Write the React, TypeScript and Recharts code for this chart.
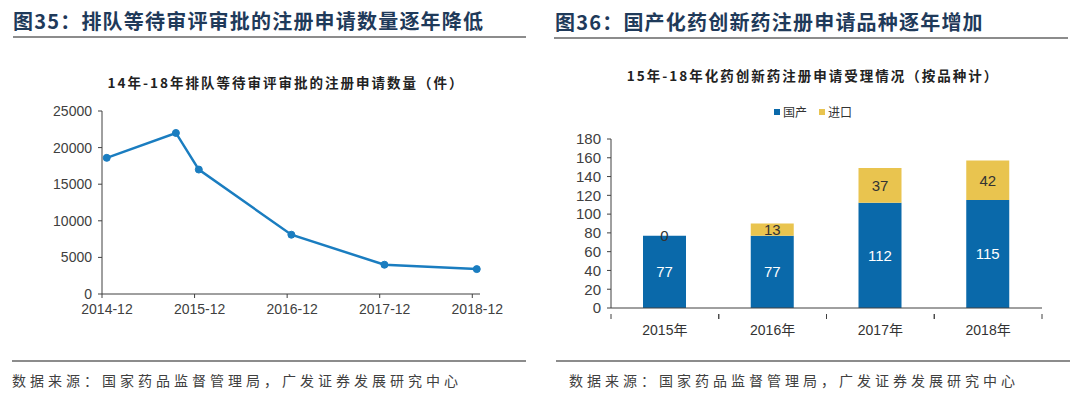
import React from "react"
import {
  Bar,
  BarChart,
  LabelList,
  Legend,
  Line,
  LineChart,
  XAxis,
  YAxis,
} from "recharts"

// left panel: queue of pending applications
const queueDates = ["2014-12-20", "2015-09-19", "2015-12-18", "2016-12-18", "2017-12-20", "2018-12-19"]
const queueValues = [18600, 22000, 17000, 8100, 4000, 3400]
const queueTickLabels = ["2014-12", "2015-12", "2016-12", "2017-12", "2018-12"]
const queueYTicks = [0, 5000, 10000, 15000, 20000, 25000]

// right panel: innovative drug applications
const years = ["2015年", "2016年", "2017年", "2018年"]
const domestic = [77, 77, 112, 115]
const imported = [0, 13, 37, 42]
const barYTicks = [0, 20, 40, 60, 80, 100, 120, 140, 160, 180]

const C = {
  line: "#1A7DC0",
  blue: "#0A69AA",
  gold: "#E9C44F",
  axis: "#404040",
  text: "#333333",
  title: "#1F3A5A",
  rule: "#8C8C8C",
}

const CJK = '"Noto Sans CJK SC", sans-serif'
const NUM = '"Liberation Sans", "Noto Sans CJK SC", sans-serif'

if (typeof document !== "undefined") document.body.style.margin = "0"

// months since 2014-12-01
function monthIndex(d: string) {
  const [y, m, day] = d.split("-").map(Number)
  return (y - 2014) * 12 + (m - 12) + (day - 1) / 31
}

const queueData = queueDates.map((d, i) => ({ x: monthIndex(d), v: queueValues[i] }))
const barData = years.map((y, i) => ({ year: y, domestic: domestic[i], imported: imported[i] }))

function Title({ left, top, children }: { left: number; top: number; children: React.ReactNode }) {
  return (
    <div
      style={{
        position: "absolute",
        left,
        top,
        fontFamily: CJK,
        fontSize: 20,
        fontWeight: 700,
        letterSpacing: 1.2,
        lineHeight: "24px",
        color: C.title,
        whiteSpace: "nowrap",
      }}
    >
      {children}
    </div>
  )
}

function Rule({ left, top, width }: { left: number; top: number; width: number }) {
  return <div style={{ position: "absolute", left, top, width, height: 2, background: C.rule }} />
}

function SubTitle({ center, top, children }: { center: number; top: number; children: React.ReactNode }) {
  return (
    <div
      style={{
        position: "absolute",
        left: center - 250,
        width: 500,
        top,
        textAlign: "center",
        fontFamily: CJK,
        fontSize: 13.5,
        fontWeight: 700,
        letterSpacing: 2,
        lineHeight: "18px",
        color: "#222",
        whiteSpace: "nowrap",
      }}
    >
      {children}
    </div>
  )
}

function Source({ left, top }: { left: number; top: number }) {
  return (
    <div
      style={{
        position: "absolute",
        left,
        top,
        fontFamily: CJK,
        fontSize: 14,
        letterSpacing: 4,
        lineHeight: "18px",
        color: "#404040",
        whiteSpace: "nowrap",
      }}
    >
      数据来源：国家药品监督管理局，广发证券发展研究中心
    </div>
  )
}

function QueueChart() {
  return (
    <div style={{ position: "absolute", left: 0, top: 0 }}>
      <LineChart width={540} height={330} data={queueData} margin={{ top: 111, right: 60, left: 42, bottom: 6 }}>
        <XAxis
          dataKey="x"
          type="number"
          domain={[0, 49]}
          ticks={[0, 12, 24, 36, 48]}
          interval={0}
          tickFormatter={(v: number) => queueTickLabels[v / 12]}
          height={30}
          stroke={C.axis}
          tickSize={4}
          tickMargin={6}
          tick={{ fill: C.axis, fontSize: 14, fontFamily: NUM, dx: 5 }}
        />
        <YAxis
          type="number"
          domain={[0, 25000]}
          ticks={queueYTicks}
          interval={0}
          width={60}
          stroke={C.axis}
          tickSize={4}
          tickMargin={6}
          tick={{ fill: C.axis, fontSize: 14, fontFamily: NUM }}
        />
        <Line
          dataKey="v"
          type="linear"
          stroke={C.line}
          strokeWidth={2.5}
          dot={{ r: 3.5, fill: C.line, stroke: C.line, strokeWidth: 1 }}
          isAnimationActive={false}
        />
      </LineChart>
    </div>
  )
}

function LegendContent() {
  const items = [
    { name: "国产", color: C.blue },
    { name: "进口", color: C.gold },
  ]
  return (
    <div style={{ display: "flex", gap: 12, fontFamily: CJK, fontSize: 12, color: C.text, lineHeight: "16px" }}>
      {items.map((it) => (
        <span key={it.name} style={{ display: "flex", alignItems: "center" }}>
          <span style={{ width: 6, height: 6, background: it.color, marginRight: 3, display: "inline-block" }} />
          {it.name}
        </span>
      ))}
    </div>
  )
}

// category label plus Excel-style tick marks on the band edges
function YearTick(props: any) {
  const { x, y, payload } = props
  const half = payload?.offset ?? 0
  return (
    <g>
      <line x1={x - half} x2={x - half} y1={y - 11} y2={y - 6} stroke={C.axis} />
      <line x1={x + half} x2={x + half} y1={y - 11} y2={y - 6} stroke={C.axis} />
      <text x={x} y={y} dy="0.71em" textAnchor="middle" fill={C.text} fontSize={14} fontFamily={NUM}>
        {payload.value}
      </text>
    </g>
  )
}

// "0" label of an empty segment sits on top of the blue bar
function ZeroLabel(props: any) {
  const { x, y, width, value } = props
  if (value !== 0) return null
  return (
    <text x={x + width / 2} y={y} dy="0.35em" textAnchor="middle" fill={C.text} fontSize={15} fontFamily={NUM}>
      {value}
    </text>
  )
}

function DrugChart() {
  return (
    <div style={{ position: "absolute", left: 540, top: 0 }}>
      <BarChart width={540} height={340} data={barData} margin={{ top: 139, right: 38, left: 21, bottom: 6 }}>
        <XAxis
          dataKey="year"
          height={26}
          stroke={C.axis}
          tickLine={false}
          tickMargin={11}
          interval={0}
          tick={<YearTick />}
        />
        <YAxis
          type="number"
          domain={[0, 180]}
          ticks={barYTicks}
          interval={0}
          width={50}
          stroke={C.axis}
          tickSize={4}
          tickMargin={6}
          tick={{ fill: C.axis, fontSize: 15, fontFamily: NUM }}
        />
        <Legend
          verticalAlign="middle"
          align="center"
          content={<LegendContent />}
          wrapperStyle={{ top: 104, left: 234, width: "auto" }}
        />
        <Bar dataKey="domestic" stackId="a" fill={C.blue} barSize={43} isAnimationActive={false}>
          <LabelList
            dataKey="domestic"
            position="center"
            style={{ fill: "#ffffff", fontSize: 15, fontFamily: NUM }}
          />
          <LabelList dataKey="imported" content={<ZeroLabel />} />
        </Bar>
        <Bar dataKey="imported" stackId="a" fill={C.gold} barSize={43} isAnimationActive={false}>
          <LabelList
            dataKey="imported"
            position="center"
            formatter={(v: number) => (v === 0 ? "" : v)}
            style={{ fill: C.text, fontSize: 15, fontFamily: NUM }}
          />
        </Bar>
      </BarChart>
    </div>
  )
}

export default function App() {
  return (
    <div style={{ position: "relative", width: 1080, height: 396, background: "#fff", overflow: "hidden" }}>
      <Title left={13} top={9}>图35：排队等待审评审批的注册申请数量逐年降低</Title>
      <Title left={555} top={10}>图36：国产化药创新药注册申请品种逐年增加</Title>
      <Rule left={13} top={36} width={513} />
      <Rule left={554} top={37} width={514} />
      <SubTitle center={286} top={73}>14年-18年排队等待审评审批的注册申请数量（件）</SubTitle>
      <SubTitle center={813} top={66}>15年-18年化药创新药注册申请受理情况（按品种计）</SubTitle>
      <QueueChart />
      <DrugChart />
      <Rule left={12} top={360} width={514} />
      <Rule left={556} top={360} width={514} />
      <Source left={12} top={371} />
      <Source left={569} top={371} />
    </div>
  )
}
